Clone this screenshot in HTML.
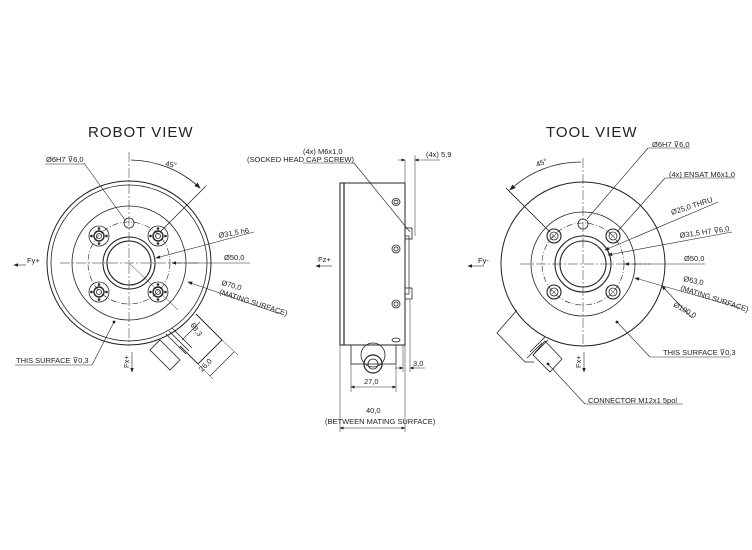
<!DOCTYPE html>
<html><head><meta charset="utf-8"><style>
html,body{margin:0;padding:0;background:#fff}
svg{display:block}
text{font-family:"Liberation Sans",sans-serif;fill:#222}
</style></head><body>
<svg width="752" height="550" viewBox="0 0 752 550" xmlns="http://www.w3.org/2000/svg">
<defs>
<marker id="a" markerWidth="8" markerHeight="6" refX="7" refY="3" orient="auto"><path d="M0,0 L8,3 L0,6 z" fill="#222"/></marker>
<g id="bh" stroke="#222" fill="none" stroke-width="0.8">
<circle cx="0" cy="0" r="10"/><circle cx="0" cy="0" r="5" stroke-width="1.4"/><circle cx="0" cy="0" r="2.5"/>
<circle cx="0" cy="-7.5" r="0.9" fill="#222"/><circle cx="0" cy="7.5" r="0.9" fill="#222"/><circle cx="-7.5" cy="0" r="0.9" fill="#222"/><circle cx="7.5" cy="0" r="0.9" fill="#222"/>
</g>
<g id="th" stroke="#222" fill="none" stroke-width="0.8"><circle cx="0" cy="0" r="7" stroke-width="1.1"/><circle cx="0" cy="0" r="4"/><path d="M-2,-2 L2,2 M-2,2 L2,-2" stroke-width="0.5"/></g>
</defs>
<g stroke="#222" fill="none" stroke-width="0.8">
<!-- ROBOT VIEW -->
<circle cx="129" cy="263" r="82" stroke-width="1"/>
<circle cx="129" cy="263" r="78"/>
<circle cx="129" cy="263" r="57"/>
<circle cx="129" cy="263" r="41" stroke-dasharray="6,2,1,2" stroke-width="0.6"/>
<circle cx="129" cy="263" r="26" stroke-width="1.1"/>
<circle cx="129" cy="263" r="22" stroke-width="1.1"/>
<circle cx="129" cy="223" r="5"/>
<use href="#bh" x="99" y="236"/><use href="#bh" x="158" y="236"/><use href="#bh" x="99" y="292"/><use href="#bh" x="158" y="292"/>
<line x1="129" y1="152" x2="129" y2="345" stroke-dasharray="10,2,2,2" stroke-width="0.5"/>
<line x1="60" y1="263" x2="200" y2="263" stroke-dasharray="10,2,2,2" stroke-width="0.5"/>
<line x1="129" y1="263" x2="178" y2="310" stroke-width="0.5"/>
<path d="M131,160 A103,103 0 0 1 200,188" marker-end="url(#a)"/>
<line x1="160" y1="232" x2="206" y2="186"/>
<line x1="84" y1="163" x2="125" y2="220" stroke-width="0.6"/>
<line x1="45" y1="164" x2="84" y2="164" stroke-width="0.6"/>
<line x1="254" y1="232" x2="156" y2="258" stroke-width="0.6" marker-end="url(#a)"/>
<line x1="250" y1="263" x2="172" y2="263" stroke-width="0.6" marker-end="url(#a)"/>
<line x1="280" y1="314" x2="188" y2="282" stroke-width="0.6" marker-end="url(#a)"/>
<line x1="15" y1="365" x2="92" y2="365" stroke-width="0.6"/>
<line x1="92" y1="365" x2="114" y2="322" stroke-width="0.6"/>
<circle cx="114" cy="322" r="1" fill="#222"/>
<line x1="26" y1="265" x2="14" y2="265" stroke-width="0.6" marker-end="url(#a)"/>
<line x1="132" y1="352" x2="132" y2="372" stroke-width="0.6" marker-end="url(#a)"/>
<!-- connector left -->
<path d="M196,314 L222,340 L198,364 L180,346" stroke-width="0.9"/>
<path d="M160,340 L180,360 L170,370 L150,350 z"/>
<path d="M166,334 L186,354 M169,331 L189,351 M172,328 L192,348"/>
<line x1="222" y1="340" x2="238" y2="355" stroke-width="0.5"/>
<line x1="198" y1="364" x2="213" y2="379" stroke-width="0.5"/>
<line x1="234" y1="352" x2="210" y2="376" stroke-width="0.6"/>
<line x1="200" y1="322" x2="182" y2="340" stroke-width="0.6"/>
<!-- SIDE VIEW -->
<rect x="340" y="183" width="65" height="162" stroke-width="1"/>
<line x1="344" y1="183" x2="344" y2="345" stroke-width="1.2"/>
<rect x="405" y="236" width="4" height="58" stroke-width="0.7"/>
<rect x="405" y="228" width="7" height="11"/>
<rect x="405" y="288" width="7" height="11"/>
<ellipse cx="396" cy="202" rx="4" ry="3.5"/><ellipse cx="396" cy="202" rx="2" ry="1.8"/>
<ellipse cx="396" cy="249" rx="4" ry="4"/><ellipse cx="396" cy="249" rx="2" ry="2"/>
<ellipse cx="396" cy="304" rx="4" ry="4"/><ellipse cx="396" cy="304" rx="2" ry="2"/>
<ellipse cx="396" cy="340" rx="4" ry="2"/>
<rect x="351" y="345" width="45" height="19"/>
<circle cx="373" cy="355" r="12"/>
<circle cx="373" cy="364" r="9" stroke-width="1.2"/>
<circle cx="373" cy="364" r="5"/>
<line x1="405" y1="160" x2="405" y2="183" stroke-width="0.5"/>
<line x1="415" y1="155" x2="415" y2="236" stroke-width="0.5"/>
<line x1="398" y1="160" x2="405" y2="160" stroke-width="0.5" marker-end="url(#a)"/>
<line x1="440" y1="160" x2="415" y2="160" stroke-width="0.5" marker-end="url(#a)"/>
<line x1="303" y1="163" x2="354" y2="163" stroke-width="0.6"/>
<line x1="354" y1="163" x2="410" y2="232" stroke-width="0.6"/>
<line x1="332" y1="266" x2="316" y2="266" stroke-width="0.6" marker-end="url(#a)"/>
<line x1="351" y1="364" x2="351" y2="392" stroke-width="0.5"/>
<line x1="396" y1="364" x2="396" y2="392" stroke-width="0.5"/>
<line x1="373" y1="387" x2="351" y2="387" stroke-width="0.5" marker-end="url(#a)"/>
<line x1="373" y1="387" x2="396" y2="387" stroke-width="0.5" marker-end="url(#a)"/>
<line x1="403" y1="345" x2="403" y2="372" stroke-width="0.5"/>
<line x1="410" y1="300" x2="410" y2="372" stroke-width="0.5"/>
<line x1="395" y1="368" x2="403" y2="368" stroke-width="0.5" marker-end="url(#a)"/>
<line x1="425" y1="368" x2="410" y2="368" stroke-width="0.5" marker-end="url(#a)"/>
<line x1="340" y1="345" x2="340" y2="432" stroke-width="0.5"/>
<line x1="405" y1="345" x2="405" y2="432" stroke-width="0.5"/>
<line x1="373" y1="428" x2="340" y2="428" stroke-width="0.5" marker-end="url(#a)"/>
<line x1="373" y1="428" x2="405" y2="428" stroke-width="0.5" marker-end="url(#a)"/>
<!-- TOOL VIEW -->
<circle cx="583" cy="264" r="82" stroke-width="1"/>
<circle cx="583" cy="264" r="52"/>
<circle cx="583" cy="264" r="41" stroke-dasharray="6,2,1,2" stroke-width="0.6"/>
<circle cx="583" cy="264" r="28" stroke-width="1.1"/>
<circle cx="583" cy="264" r="23" stroke-width="1.1"/>
<circle cx="583" cy="224" r="5"/>
<use href="#th" x="554" y="236"/><use href="#th" x="613" y="236"/><use href="#th" x="554" y="292"/><use href="#th" x="613" y="292"/>
<line x1="583" y1="158" x2="583" y2="345" stroke-dasharray="10,2,2,2" stroke-width="0.5"/>
<line x1="520" y1="264" x2="650" y2="264" stroke-dasharray="10,2,2,2" stroke-width="0.5"/>
<path d="M581,162 A102,102 0 0 0 510,190" marker-end="url(#a)"/>
<line x1="550" y1="232" x2="506" y2="188"/>
<line x1="587" y1="219" x2="648" y2="148" stroke-width="0.6"/>
<line x1="648" y1="148" x2="690" y2="148" stroke-width="0.6"/>
<line x1="617" y1="232" x2="665" y2="178" stroke-width="0.6"/>
<line x1="665" y1="178" x2="735" y2="178" stroke-width="0.6"/>
<line x1="718" y1="202" x2="605" y2="250" stroke-width="0.6" marker-end="url(#a)"/>
<line x1="732" y1="232" x2="608" y2="255" stroke-width="0.6" marker-end="url(#a)"/>
<line x1="705" y1="264" x2="625" y2="264" stroke-width="0.6" marker-end="url(#a)"/>
<line x1="740" y1="308" x2="635" y2="278" stroke-width="0.6" marker-end="url(#a)"/>
<line x1="692" y1="318" x2="662" y2="286" stroke-width="0.6" marker-end="url(#a)"/>
<line x1="650" y1="357" x2="730" y2="357" stroke-width="0.6"/>
<line x1="650" y1="357" x2="617" y2="322" stroke-width="0.6"/>
<circle cx="617" cy="322" r="1" fill="#222"/>
<line x1="484" y1="266" x2="468" y2="266" stroke-width="0.6" marker-end="url(#a)"/>
<line x1="584" y1="352" x2="584" y2="372" stroke-width="0.6" marker-end="url(#a)"/>
<!-- connector right -->
<path d="M517,310 L497,333 L525,362 L534,362"/>
<path d="M545,341 L562,359 L550,372 L533,355 z"/>
<path d="M530,352 L545,337 M533,355 L548,340 M527,358 L542,343"/>
<circle cx="548" cy="364" r="1" fill="#222"/>
<line x1="548" y1="364" x2="585" y2="404" stroke-width="0.6"/>
<line x1="585" y1="404" x2="683" y2="404" stroke-width="0.6"/>
</g>
<g font-size="7.5">
<text x="88" y="137" font-size="15" letter-spacing="1">ROBOT VIEW</text>
<text x="546" y="137" font-size="15" letter-spacing="1">TOOL VIEW</text>
<text x="46" y="162">Ø6H7 ⊽6,0</text>
<text x="165" y="166" transform="rotate(10 165 166)">45°</text>
<text x="219" y="238" transform="rotate(-10 219 238)">Ø31,5 h6</text>
<text x="224" y="260">Ø50,0</text>
<text x="221" y="285" transform="rotate(15 221 285)">Ø70,0</text>
<text x="219" y="294" transform="rotate(18 219 294)">(MATING SURFACE)</text>
<text x="16" y="363">THIS SURFACE ⊽0,3</text>
<text x="27" y="263">Fy+</text>
<text x="129" y="368" transform="rotate(-90 129 368)">Fx+</text>
<text x="190" y="325" transform="rotate(55 190 325)">68,3</text>
<text x="202" y="372" transform="rotate(-45 202 372)">26,0</text>
<text x="303" y="154">(4x) M6x1,0</text>
<text x="247" y="162">(SOCKED HEAD CAP SCREW)</text>
<text x="426" y="157">(4x) 5,9</text>
<text x="318" y="262">Fz+</text>
<text x="413" y="366">3,0</text>
<text x="364" y="384">27,0</text>
<text x="366" y="413">40,0</text>
<text x="325" y="424">(BETWEEN MATING SURFACE)</text>
<text x="652" y="147">Ø6H7 ⊽6,0</text>
<text x="669" y="177">(4x) ENSAT M6x1,0</text>
<text x="672" y="215" transform="rotate(-18 672 215)">Ø25,0 THRU</text>
<text x="680" y="238" transform="rotate(-8 680 238)">Ø31,5 H7 ⊽6,0</text>
<text x="684" y="261">Ø50,0</text>
<text x="683" y="281" transform="rotate(12 683 281)">Ø63,0</text>
<text x="680" y="290" transform="rotate(18 680 290)">(MATING SURFACE)</text>
<text x="673" y="306" transform="rotate(30 673 306)">Ø100,0</text>
<text x="663" y="355">THIS SURFACE ⊽0,3</text>
<text x="478" y="263">Fy-</text>
<text x="581" y="368" transform="rotate(-90 581 368)">Fx+</text>
<text x="537" y="167" transform="rotate(-20 537 167)">45°</text>
<text x="588" y="403">CONNECTOR M12x1 5pol</text>
</g>
</svg>
</body></html>
